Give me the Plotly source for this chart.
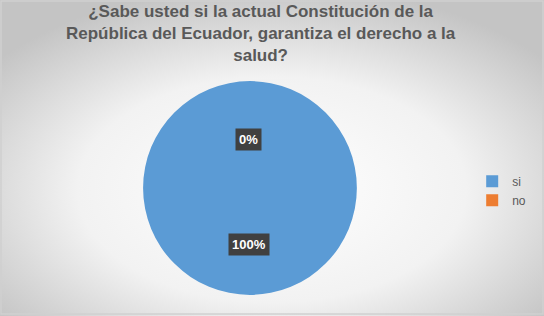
import plotly.graph_objects as go
import base64

labels = ["si", "no"]
values = [100, 0]
colors = ["#5B9BD5", "#ED7D31"]
title = "¿Sabe usted si la actual Constitución de la<br>República del Ecuador, garantiza el derecho a la<br>salud?"

total = sum(values)
pct = [f"{round(v / total * 100)}%" for v in values]

svg = ('<svg xmlns="http://www.w3.org/2000/svg" width="544" height="316">'
       '<defs><radialGradient id="g" cx="50%" cy="60%" r="65%">'
       '<stop offset="0%" stop-color="#ffffff"/><stop offset="55%" stop-color="#f2f2f2"/>'
       '<stop offset="100%" stop-color="#c4c4c4"/></radialGradient></defs>'
       '<rect width="544" height="316" fill="url(#g)"/>'
       '<rect x="1" y="1" width="542" height="313" fill="none" stroke="#d0d0d0" stroke-width="1.5"/>'
       '</svg>')
src = "data:image/svg+xml;base64," + base64.b64encode(svg.encode()).decode()

fig = go.Figure(go.Pie(
    labels=labels, values=values, sort=False, direction="clockwise",
    marker=dict(colors=colors, line=dict(width=0)),
    textinfo="none", hoverinfo="label+percent",
    domain=dict(x=[0.263, 0.656], y=[0.066, 0.744]),
))

# data labels
label_pos = {"no": (0.457, 0.557), "si": (0.457, 0.19)}
for lab, p in zip(labels, pct):
    x, y = label_pos[lab]
    fig.add_annotation(x=x, y=y, xref="paper", yref="paper", text=f"<b>{p}</b>",
                       showarrow=False, bgcolor="#404040", borderpad=3,
                       font=dict(color="white", size=13, family="Liberation Sans"))

fig.add_annotation(x=0.48, y=1.0, xref="paper", yref="paper", xanchor="center", yanchor="top",
                   yshift=0, text=f"<b>{title}</b>", showarrow=False,
                   font=dict(size=17, color="#595959", family="Liberation Sans"))

fig.update_layout(
    width=544, height=316,
    margin=dict(l=0, r=0, t=0, b=0, autoexpand=False),
    paper_bgcolor="white",
    images=[dict(source=src, xref="paper", yref="paper", x=0, y=1, sizex=1, sizey=1,
                 xanchor="left", yanchor="top", sizing="stretch", layer="below")],
    legend=dict(x=0.868, y=0.396, xanchor="left", yanchor="middle",
                font=dict(size=12, color="#595959", family="Liberation Sans"),
                bgcolor="rgba(0,0,0,0)"),
    showlegend=True,
)

fig.write_html("out.html")
